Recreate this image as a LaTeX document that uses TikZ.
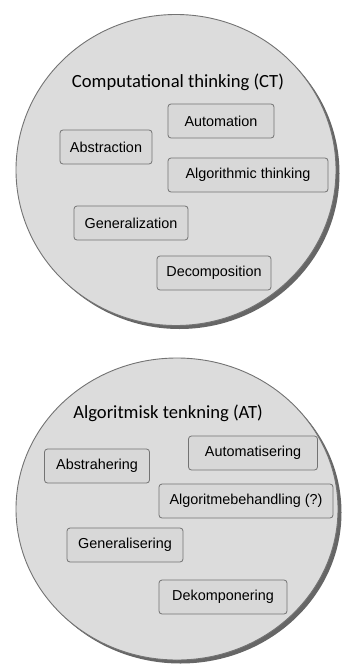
\documentclass[tikz,border=0pt]{standalone}
\usepackage{fontspec}
\setmainfont{Liberation Sans}
\newfontfamily\titlefont{Carlito}
\usetikzlibrary{shapes.geometric,shadows}
\definecolor{bubblegray}{RGB}{220,220,220}
\definecolor{boxgray}{RGB}{216,216,216}
\definecolor{linegray}{RGB}{115,115,115}

\begin{document}
\begin{tikzpicture}[
    x=1pt,y=-1pt,
    bubble/.style={ellipse,draw=linegray,fill=bubblegray,line width=0.9pt,
      drop shadow={shadow xshift=3.5pt,shadow yshift=-3.5pt,opacity=0.8,fill=black!75}},
    heading/.style={font=\titlefont\fontsize{18.6}{21}\selectfont},
    concept/.style={draw=linegray,fill=boxgray,rounded corners=3pt,line width=0.8pt,
      minimum height=34pt,inner sep=2pt,font=\fontsize{14.4}{17}\selectfont}
  ]
    \useasboundingbox (0,0) rectangle (346,666);

    % Computational thinking
    \node[bubble,minimum width=320pt,minimum height=311pt] (ct) at (176,170) {};
    \node[heading] (cttitle) at (178,82) {Computational thinking (CT)};
    \node[concept,minimum width=106pt] (automation) at (221,121) {Automation};
    \node[concept,minimum width=92pt] (abstraction) at (106,147) {Abstraction};
    \node[concept,minimum width=160pt] (algthinking) at (248,175) {Algorithmic thinking};
    \node[concept,minimum width=114pt] (generalization) at (131,223) {Generalization};
    \node[concept,minimum width=114pt] (decomposition) at (214,273) {Decomposition};

    % Algoritmisk tenkning
    \node[bubble,minimum width=322pt,minimum height=302pt] (at) at (177,509) {};
    \node[heading] (attitle) at (168,413) {Algoritmisk tenkning (AT)};
    \node[concept,minimum width=129pt] (automatisering) at (253,453) {Automatisering};
    \node[concept,minimum width=105pt] (abstrahering) at (97,466) {Abstrahering};
    \node[concept,minimum width=174pt] (algbehandling) at (246,501) {Algoritmebehandling (?)};
    \node[concept,minimum width=116pt] (generalisering) at (125,545) {Generalisering};
    \node[concept,minimum width=128pt] (dekomponering) at (223,597) {Dekomponering};
  \end{tikzpicture}
\end{document}
